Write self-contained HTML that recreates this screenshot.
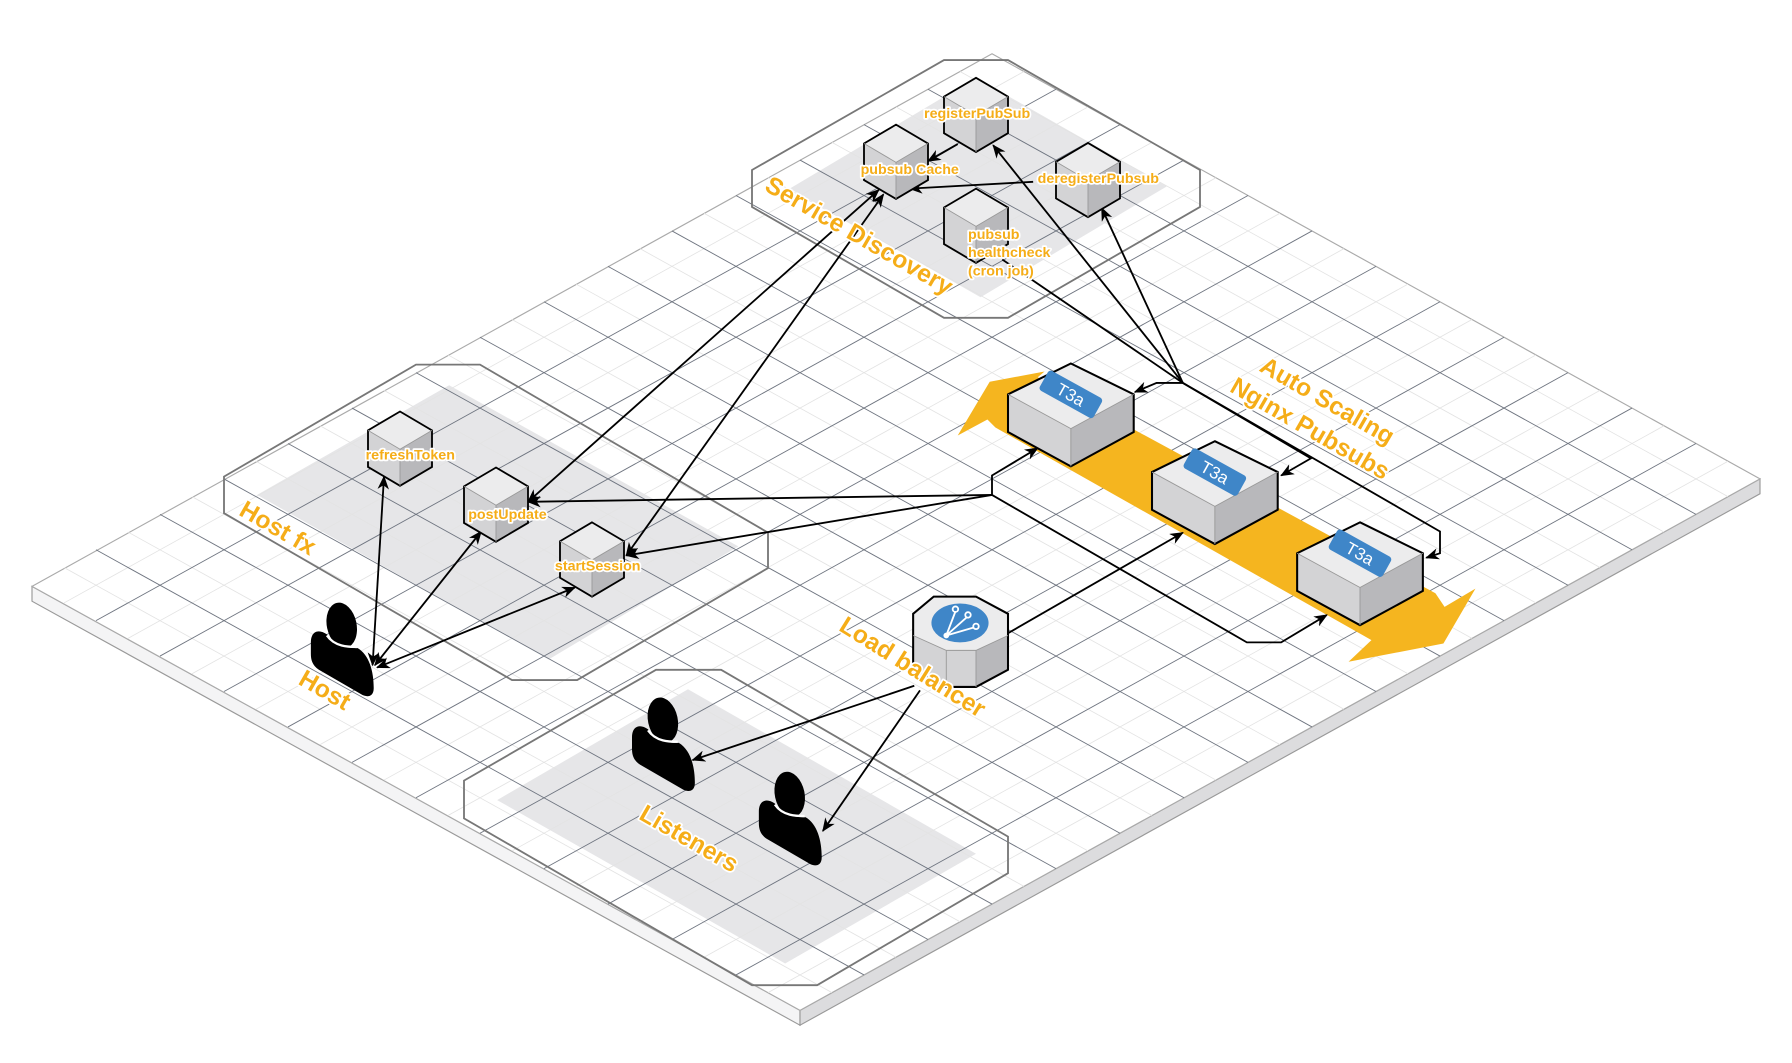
<!DOCTYPE html>
<html><head><meta charset="utf-8"><style>
html,body{margin:0;padding:0;background:#fff;}
svg{display:block;}
.lbl{font-family:"Liberation Sans",sans-serif;font-weight:bold;font-size:12.5px;fill:#F5AD18;stroke:#fff;stroke-width:3;paint-order:stroke;stroke-linejoin:round;}
.big{font-family:"Liberation Sans",sans-serif;font-weight:bold;font-size:21.5px;fill:#F5AD18;stroke:#fff;stroke-width:3;paint-order:stroke;stroke-linejoin:round;}
.ln{fill:none;stroke:#000;stroke-width:1.6;}
</style></head><body>
<svg width="1792" height="1063" viewBox="0 0 1568 930" xmlns="http://www.w3.org/2000/svg">
<defs>
<marker id="ar" viewBox="0 0 12 10" refX="11" refY="5" markerWidth="12" markerHeight="10" markerUnits="userSpaceOnUse" orient="auto-start-reverse">
<path d="M0,0 L12,5 L0,10 L3.5,5 Z" fill="#000"/>
</marker>
<g id="cube">
<path d="M0,0 L28,16.5 L0,33 L-28,16.5 Z" fill="#ececed"/>
<path d="M-28,16.5 L0,33 L0,65 L-28,48.5 Z" fill="#d3d3d5"/>
<path d="M0,33 L28,16.5 L28,48.5 L0,65 Z" fill="#b8b8bb"/>
<path d="M0,0 L28,16.5 L28,48.5 L0,65 L-28,48.5 L-28,16.5 Z" fill="none" stroke="#000" stroke-width="1.6"/>
<path d="M-28,16.5 L0,33 L28,16.5 M0,33 V65" fill="none" stroke="#999" stroke-width="0.8"/>
</g>
<g id="box">
<path d="M0,0 L55,27 L0,57 L-55,27 Z" fill="#ececed"/>
<path d="M-55,27 L0,57 L0,90 L-55,60 Z" fill="#d3d3d5"/>
<path d="M0,57 L55,27 L55,60 L0,90 Z" fill="#b8b8bb"/>
<path d="M0,0 L55,27 L55,60 L0,90 L-55,60 L-55,27 Z" fill="none" stroke="#000" stroke-width="1.8"/>
<path d="M-55,27 L0,57 L55,27 M0,57 V90" fill="none" stroke="#999" stroke-width="0.8"/>
<g transform="translate(0,27) rotate(29)">
<rect x="-27" y="-10" width="54" height="20" rx="3" fill="#3f86c8"/>
<text x="0" y="5.5" text-anchor="middle" font-family="Liberation Sans,sans-serif" font-size="15" fill="#fff">T3a</text>
</g>
</g>
<g id="person">
<ellipse cx="0" cy="0" rx="13" ry="20" transform="rotate(-12)" fill="#000"/>
<path d="M-27,15 C-27,5 -20,3 -13,8 C-6,20 8,20 14,20 C24,26 28,40 28,55 C28,63 22,63 18,61 L-20,39 C-26,35 -27,30 -27,25 Z" fill="#000"/>
<path d="M-13,9 C-6,19 6,19 13,19" stroke="#fff" stroke-width="2" fill="none"/>
</g>
</defs>

<!-- plane slab -->
<path d="M28,513 L700,884 L700,897 L28,526 Z" fill="#f4f4f5" stroke="#999" stroke-width="1"/>
<path d="M700,884 L1540,419 L1540,432 L700,897 Z" fill="#dcdcde" stroke="#999" stroke-width="1"/>
<path d="M868,47 L1540,419 L700,884 L28,513 Z" fill="#fff" stroke="#aaa" stroke-width="1"/>

<!-- gray areas -->
<path d="M691,165 L854,68 L1021,163 L858,260 Z" fill="#e6e6e8"/>
<path d="M225,433 L393,337 L646,478 L480,577 Z" fill="#e6e6e8"/>
<path d="M435,700 L602,603 L854,747 L687,843 Z" fill="#e6e6e8"/>

<!-- grid -->
<g transform="matrix(56,31,-56,31,868,47)">
<path vector-effect="non-scaling-stroke" stroke="#e3e3e3" stroke-width="0.8" fill="none" d="M0,0.5H12M0,1.5H12M0,2.5H12M0,3.5H12M0,4.5H12M0,5.5H12M0,6.5H12M0,7.5H12M0,8.5H12M0,9.5H12M0,10.5H12M0,11.5H12M0,12.5H12M0,13.5H12M0,14.5H12M0.5,0V15M1.5,0V15M2.5,0V15M3.5,0V15M4.5,0V15M5.5,0V15M6.5,0V15M7.5,0V15M8.5,0V15M9.5,0V15M10.5,0V15M11.5,0V15"/>
<path vector-effect="non-scaling-stroke" stroke="#6f7580" stroke-width="0.9" fill="none" d="M0,1H12M0,2H12M0,3H12M0,4H12M0,5H12M0,6H12M0,7H12M0,8H12M0,9H12M0,10H12M0,11H12M0,12H12M0,13H12M0,14H12M1,0V15M2,0V15M3,0V15M4,0V15M5,0V15M6,0V15M7,0V15M8,0V15M9,0V15M10,0V15M11,0V15"/>
</g>

<!-- group outlines -->
<path d="M826,52.5 L882,52.5 L1050,148.7 L1050,181 L882,278 L826,278 L658,181 L658,148.7 Z" fill="none" stroke="#777" stroke-width="1.6"/>
<path d="M364,319 L420,319 L672,466 L672,497 L505,595 L448,595 L196,449 L196,417 Z" fill="none" stroke="#777" stroke-width="1.6"/>
<path d="M574,586 L631,586 L882,732 L882,764 L715,862 L658,862 L406,716 L406,683 Z" fill="none" stroke="#777" stroke-width="1.6"/>

<!-- orange band -->
<path d="M838,381 L866,334 L914,325 L908,330 L1256,519 L1264,531 L1291,515 L1263,563 L1180,579 L1200,560 L871,374 L864,367 Z" fill="#F5B51F"/>

<!-- connectors -->
<path class="ln" d="M877,227 L1035,335 L1147,401 L1121,416" marker-end="url(#ar)"/>
<path class="ln" d="M1035,335 L1260,465 L1260,484 L1248,488" marker-end="url(#ar)"/>
<path class="ln" d="M1035,335 L869,127" marker-end="url(#ar)"/>
<path class="ln" d="M1035,335 L964,182" marker-end="url(#ar)"/>
<path class="ln" d="M1035,335 L1012,335 L993,343" marker-end="url(#ar)"/>
<path class="ln" d="M838,126 L812,141" marker-end="url(#ar)"/>
<path class="ln" d="M904,159 L796,165" marker-end="url(#ar)"/>
<path class="ln" d="M769,166 L462,439" marker-start="url(#ar)" marker-end="url(#ar)"/>
<path class="ln" d="M773,170 L548,486" marker-start="url(#ar)" marker-end="url(#ar)"/>
<path class="ln" d="M868,433 L462,439" marker-end="url(#ar)"/>
<path class="ln" d="M868,433 L548,486" marker-end="url(#ar)"/>
<path class="ln" d="M868,433 L868,416 L908,392" marker-end="url(#ar)"/>
<path class="ln" d="M868,433 L1091,562 L1121,562 L1161,538" marker-end="url(#ar)"/>
<path class="ln" d="M882,554 L1035,466" marker-end="url(#ar)"/>
<path class="ln" d="M800,600 L606,665" marker-end="url(#ar)"/>
<path class="ln" d="M805,604 L720,727" marker-end="url(#ar)"/>
<path class="ln" d="M326,582 L336,417" marker-start="url(#ar)" marker-end="url(#ar)"/>
<path class="ln" d="M328,582 L421,465" marker-start="url(#ar)" marker-end="url(#ar)"/>
<path class="ln" d="M330,584 L503,514" marker-start="url(#ar)" marker-end="url(#ar)"/>

<!-- small cubes -->
<use href="#cube" x="854" y="68"/>
<use href="#cube" x="784" y="109"/>
<use href="#cube" x="952" y="125"/>
<use href="#cube" x="854" y="165"/>
<use href="#cube" x="350" y="360"/>
<use href="#cube" x="434" y="409"/>
<use href="#cube" x="518" y="457"/>

<!-- T3a boxes -->
<use href="#box" x="937" y="318"/>
<use href="#box" x="1063" y="386"/>
<use href="#box" x="1190" y="457"/>

<!-- load balancer -->
<path d="M799,537 L817,522 L854,522 L882,537 L882,586 L854,601 L828,601 L799,586 Z" fill="#d3d3d5"/>
<path d="M854,569 L882,556 L882,586 L854,601 Z" fill="#b8b8bb"/>
<path d="M799,537 L817,522 L854,522 L882,537 L882,556 L854,569 L828,569 L799,556 Z" fill="#ececed"/>
<path d="M799,537 L817,522 L854,522 L882,537 L882,586 L854,601 L828,601 L799,586 Z" fill="none" stroke="#000" stroke-width="1.8"/>
<path d="M799,556 L828,569 L854,569 L882,556 M828,569 V601 M854,569 V601" fill="none" stroke="#999" stroke-width="0.8"/>
<ellipse cx="840" cy="545" rx="25" ry="17" fill="#3f86c8"/>
<g stroke="#fff" stroke-width="1.6" fill="none">
<path d="M828,556 L836,535 M828,556 L846,540 M828,556 L852,549"/>
<circle cx="836" cy="533" r="2.4"/><circle cx="847" cy="538" r="2.4"/><circle cx="854" cy="548" r="2.4"/>
</g>
<circle cx="828" cy="556" r="2.5" fill="#fff"/>

<!-- people -->
<use href="#person" x="299" y="547"/>
<use href="#person" x="580" y="630"/>
<use href="#person" x="691" y="695"/>

<!-- small labels -->
<text class="lbl" x="855" y="103" text-anchor="middle">registerPubSub</text>
<text class="lbl" x="796" y="152" text-anchor="middle">pubsub Cache</text>
<text class="lbl" x="961" y="160" text-anchor="middle">deregisterPubsub</text>
<text class="lbl" x="847" y="209">pubsub</text>
<text class="lbl" x="847" y="225">healthcheck</text>
<text class="lbl" x="847" y="241">(cron job)</text>
<text class="lbl" x="359" y="402" text-anchor="middle">refreshToken</text>
<text class="lbl" x="444" y="454" text-anchor="middle">postUpdate</text>
<text class="lbl" x="523" y="499" text-anchor="middle">startSession</text>

<!-- big labels -->
<text class="big" transform="translate(668,166) rotate(30)">Service Discovery</text>
<text class="big" transform="translate(208,450) rotate(30)">Host fx</text>
<text class="big" transform="translate(260,598) rotate(30)">Host</text>
<text class="big" transform="translate(558,716) rotate(30)">Listeners</text>
<text class="big" transform="translate(733,551) rotate(32)">Load balancer</text>
<text class="big" transform="translate(1101,324) rotate(30)">Auto Scaling</text>
<text class="big" transform="translate(1075,342) rotate(30)">Nginx Pubsubs</text>
</svg>
</body></html>
